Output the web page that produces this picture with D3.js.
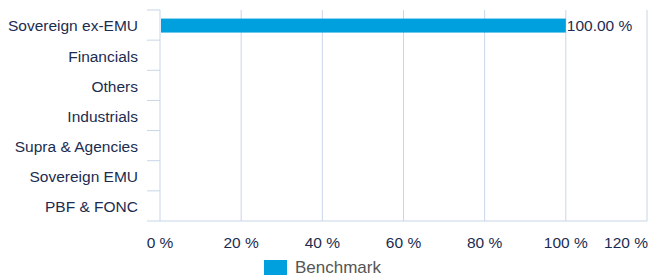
<!DOCTYPE html>
<html>
<head>
<meta charset="utf-8">
<script src="https://cdn.jsdelivr.net/npm/d3@7"></script>
<style>
  body { margin: 0; background: #fff; }
  text { font-family: "Liberation Sans", Arial, sans-serif; }
</style>
</head>
<body>
<div id="chart"></div>
<script>
const categories = ["Sovereign ex-EMU", "Financials", "Others", "Industrials", "Supra & Agencies", "Sovereign EMU", "PBF & FONC"];
const benchmark = [100, null, null, null, null, null, null];
const xTicks = [0, 20, 40, 60, 80, 100, 120];
const seriesName = "Benchmark";

const width = 650, height = 275;
const margin = { top: 10, right: 3, bottom: 54, left: 160 };
const gridColor = "#c9d5e8";
const textColor = "#1c2c50";
const barColor = "#00a0df";

const svg = d3.select("#chart").append("svg")
    .attr("width", width)
    .attr("height", height);

const x = d3.scaleLinear().domain([0, 120]).range([margin.left, 647]);
const y = d3.scaleBand().domain(categories).range([margin.top, height - margin.bottom]);

// vertical grid lines
svg.append("g").selectAll("line")
    .data(xTicks)
    .join("line")
    .attr("x1", d => x(d)).attr("x2", d => x(d))
    .attr("y1", margin.top).attr("y2", y.range()[1])
    .attr("stroke", gridColor)
    .attr("stroke-width", 1);

// category tick marks (band boundaries)
const bounds = categories.map(c => y(c)).concat([y.range()[1]]);
svg.append("g").selectAll("line")
    .data(bounds)
    .join("line")
    .attr("x1", margin.left - 13).attr("x2", margin.left)
    .attr("y1", d => d).attr("y2", d => d)
    .attr("stroke", gridColor);

// bottom axis line
svg.append("line")
    .attr("x1", margin.left).attr("x2", x(120))
    .attr("y1", y.range()[1]).attr("y2", y.range()[1])
    .attr("stroke", gridColor);

// category labels
svg.append("g").selectAll("text")
    .data(categories)
    .join("text")
    .attr("x", 138)
    .attr("y", d => y(d) + y.bandwidth() / 2 + 1)
    .attr("dy", "0.35em")
    .attr("text-anchor", "end")
    .attr("fill", textColor)
    .style("font-size", "15.5px")
    .text(d => d);

// x tick labels
svg.append("g").selectAll("text")
    .data(xTicks)
    .join("text")
    .attr("x", d => d === 120 ? 648 : x(d))
    .attr("y", 248)
    .attr("text-anchor", d => d === 120 ? "end" : "middle")
    .attr("fill", textColor)
    .style("font-size", "15.5px")
    .text(d => d + " %");

// bars
const barH = 14;
const rows = categories.map((c, i) => ({ c, v: benchmark[i] })).filter(d => d.v != null);
svg.append("g").selectAll("rect")
    .data(rows)
    .join("rect")
    .attr("x", x(0) + 1)
    .attr("y", d => y(d.c) + y.bandwidth() / 2 - barH / 2 + 0.5)
    .attr("width", d => x(d.v) - x(0) - 1)
    .attr("height", barH)
    .attr("fill", barColor);

svg.append("g").selectAll("text")
    .data(rows)
    .join("text")
    .attr("x", d => x(d.v) + 1)
    .attr("y", d => y(d.c) + y.bandwidth() / 2 + 1)
    .attr("dy", "0.35em")
    .attr("fill", textColor)
    .style("font-size", "15.5px")
    .text(d => d.v.toFixed(2) + " %");

// legend
const lg = svg.append("g").attr("transform", "translate(264,260)");
lg.append("rect").attr("width", 23).attr("height", 15).attr("fill", barColor);
lg.append("text")
    .attr("x", 31).attr("y", 13)
    .attr("fill", "#555")
    .style("font-size", "17px")
    .text(seriesName);
</script>
</body>
</html>
